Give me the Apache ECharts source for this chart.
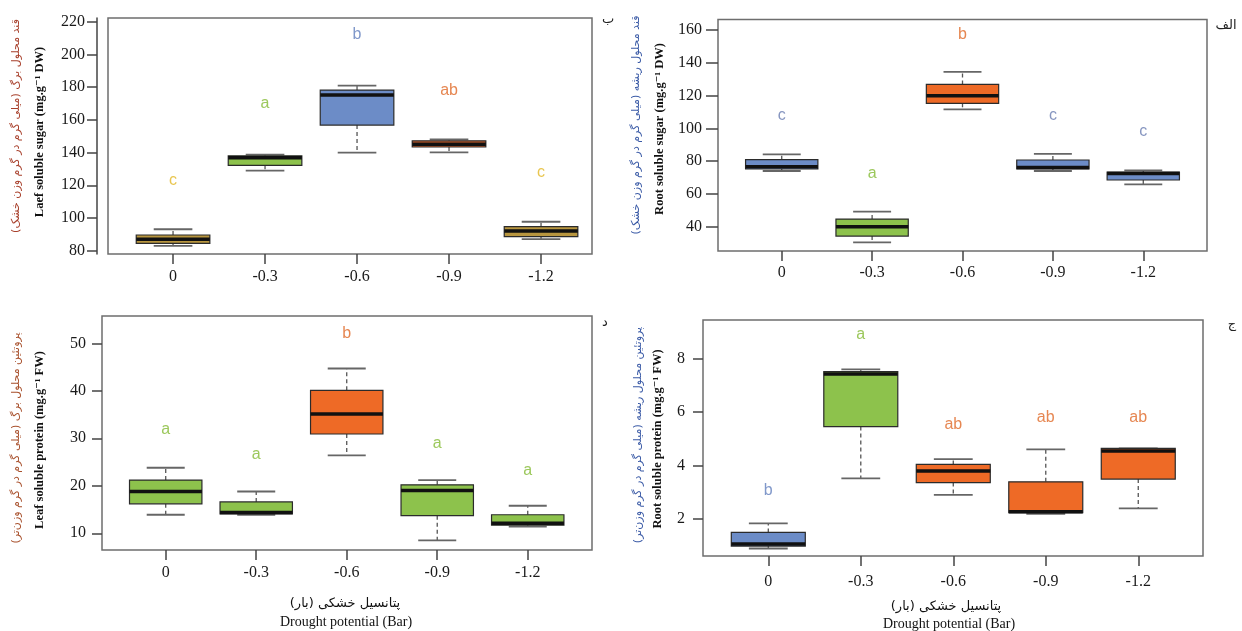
<!DOCTYPE html>
<html>
<head>
<meta charset="utf-8">
<script src="https://cdn.jsdelivr.net/npm/echarts@6/dist/echarts.min.js"></script>
<style>
html,body{margin:0;padding:0;background:#fff;}
#chart{width:1242px;height:631px;}
</style>
</head>
<body>
<div id="chart"></div>
<script>
// ---------- data ----------
const categories = ['0', '-0.3', '-0.6', '-0.9', '-1.2'];
const categoryPos = [1, 2, 3, 4, 5];

// five-number summaries per category: [lower whisker, Q1, median, Q3, upper whisker]
const leafSugar = [
  [82.9, 84.5, 87.0, 89.6, 93.1],
  [128.9, 132.2, 136.8, 138.0, 138.7],
  [139.9, 156.8, 175.2, 178.2, 180.9],
  [140.1, 143.4, 145.0, 147.2, 148.0],
  [87.1, 88.6, 92.0, 94.7, 97.7]
];
const rootSugar = [
  [74.0, 75.2, 76.6, 80.9, 84.1],
  [30.4, 34.3, 40.0, 44.7, 49.2],
  [111.6, 115.3, 119.9, 126.8, 134.4],
  [74.0, 75.2, 76.2, 80.7, 84.5],
  [65.8, 68.5, 72.5, 73.4, 74.4]
];
const leafProtein = [
  [13.9, 16.2, 18.8, 21.2, 23.8],
  [13.9, 14.1, 14.4, 16.6, 18.8],
  [26.4, 30.9, 35.1, 40.1, 44.7],
  [8.5, 13.7, 19.0, 20.2, 21.2],
  [11.4, 11.7, 12.1, 13.9, 15.8]
];
const rootProtein = [
  [0.90, 0.99, 1.07, 1.50, 1.84],
  [3.52, 5.45, 7.41, 7.50, 7.59],
  [2.90, 3.36, 3.79, 4.04, 4.24],
  [2.19, 2.24, 2.27, 3.39, 4.60],
  [2.40, 3.49, 4.54, 4.64, 4.64]
];

// significance letters and their heights
const leafSugarLetters = ['c', 'a', 'b', 'ab', 'c'];
const leafSugarLetterY = [123, 170, 212, 178, 128];
const rootSugarLetters = ['c', 'a', 'b', 'c', 'c'];
const rootSugarLetterY = [107.5, 72.5, 157, 108, 98];
const leafProteinLetters = ['a', 'a', 'b', 'a', 'a'];
const leafProteinLetterY = [31.8, 26.5, 52.1, 28.9, 23.3];
const rootProteinLetters = ['b', 'a', 'ab', 'ab', 'ab'];
const rootProteinLetterY = [3.08, 8.87, 5.51, 5.80, 5.80];

// tick labels
const leafSugarTicks = [80, 100, 120, 140, 160, 180, 200, 220];
const rootSugarTicks = [40, 60, 80, 100, 120, 140, 160];
const leafProteinTicks = [10, 20, 30, 40, 50];
const rootProteinTicks = [2, 4, 6, 8];

// ---------- styles ----------
const FILL = {
  gold: '#B8963F', green: '#8DC24C', blue: '#6C8CC7', orange: '#EE6A26', brownOrange: '#D9622B'
};
const LETTER = {
  gold: '#E9C650', green: '#9CC85C', blue: '#8098CA', orange: '#E68752', grayBlue: '#8796C0'
};

const panels = [
  {
    data: leafSugar, letters: leafSugarLetters, letterY: leafSugarLetterY, ticks: leafSugarTicks,
    grid: {left: 108, top: 18, width: 484, height: 236},
    x: [0.293, 5.554], y: [77.98, 222.26], yOffset: 11, tickLen: 10, labelMargin: 12, xLabelMargin: 15,
    fills: [FILL.gold, FILL.green, FILL.blue, FILL.brownOrange, FILL.gold],
    letterColors: [LETTER.gold, LETTER.green, LETTER.blue, LETTER.orange, LETTER.gold]
  },
  {
    data: rootSugar, letters: rootSugarLetters, letterY: rootSugarLetterY, ticks: rootSugarTicks,
    grid: {left: 718, top: 19.5, width: 489, height: 231.5},
    x: [0.295, 5.705], y: [25.2, 166.4], yOffset: 0, tickLen: 12, labelMargin: 16, xLabelMargin: 14,
    fills: [FILL.blue, FILL.green, FILL.orange, FILL.blue, FILL.blue],
    letterColors: [LETTER.grayBlue, LETTER.green, LETTER.orange, LETTER.grayBlue, LETTER.grayBlue]
  },
  {
    data: leafProtein, letters: leafProteinLetters, letterY: leafProteinLetterY, ticks: leafProteinTicks,
    grid: {left: 102, top: 316, width: 490, height: 234},
    x: [0.296, 5.71], y: [6.48, 55.75], yOffset: 0, tickLen: 10, labelMargin: 16, xLabelMargin: 15,
    fills: [FILL.green, FILL.green, FILL.orange, FILL.green, FILL.green],
    letterColors: [LETTER.green, LETTER.green, LETTER.orange, LETTER.green, LETTER.green]
  },
  {
    data: rootProtein, letters: rootProteinLetters, letterY: rootProteinLetterY, ticks: rootProteinTicks,
    grid: {left: 703, top: 320, width: 500, height: 236},
    x: [0.294, 5.70], y: [0.62, 9.43], yOffset: 0, tickLen: 10, labelMargin: 18, xLabelMargin: 18,
    fills: [FILL.blue, FILL.green, FILL.orange, FILL.orange, FILL.orange],
    letterColors: [LETTER.blue, LETTER.green, LETTER.orange, LETTER.orange, LETTER.orange]
  }
];

const grids = [], xAxes = [], yAxes = [], series = [];
const tickFont = {fontFamily: '"Liberation Serif", "DejaVu Serif", serif', fontSize: 16, color: '#1a1a1a'};

panels.forEach((p, i) => {
  grids.push(Object.assign({show: true, borderColor: '#6e6e6e', borderWidth: 1.5, backgroundColor: 'transparent'}, p.grid));
  xAxes.push({
    type: 'value', gridIndex: i, min: p.x[0], max: p.x[1],
    axisLine: {show: false},
    splitLine: {show: false},
    axisTick: {show: true, customValues: categoryPos, length: 10, lineStyle: {color: '#444', width: 1.5}},
    axisLabel: Object.assign({show: true, customValues: categoryPos, margin: p.xLabelMargin,
      formatter: v => categories[Math.round(v) - 1]}, tickFont)
  });
  yAxes.push({
    type: 'value', gridIndex: i, min: p.y[0], max: p.y[1], offset: p.yOffset,
    axisLine: {show: p.yOffset > 0, lineStyle: {color: '#444', width: 1.5}},
    splitLine: {show: false},
    axisTick: {show: true, customValues: p.ticks, length: p.tickLen, lineStyle: {color: '#444', width: 1.5}},
    axisLabel: Object.assign({show: true, customValues: p.ticks, margin: p.labelMargin}, tickFont)
  });

  const boxData = p.data.map((d, k) => [categoryPos[k]].concat(d));
  series.push({
    type: 'custom', xAxisIndex: i, yAxisIndex: i,
    data: boxData,
    renderItem: function (params, api) {
      const x = api.value(0);
      const lo = api.coord([x, api.value(1)]);
      const q1 = api.coord([x, api.value(2)]);
      const md = api.coord([x, api.value(3)]);
      const q3 = api.coord([x, api.value(4)]);
      const hi = api.coord([x, api.value(5)]);
      const bl = api.coord([x - 0.4, 0])[0], br = api.coord([x + 0.4, 0])[0];
      const cl = api.coord([x - 0.21, 0])[0], cr = api.coord([x + 0.21, 0])[0];
      const cx = lo[0];
      const fill = p.fills[params.dataIndex];
      const whisk = {stroke: '#555', lineWidth: 1.3, lineDash: [4, 3]};
      const cap = {stroke: '#666', lineWidth: 1.8};
      return {
        type: 'group',
        children: [
          {type: 'line', shape: {x1: cx, y1: q3[1], x2: cx, y2: hi[1]}, style: whisk},
          {type: 'line', shape: {x1: cx, y1: q1[1], x2: cx, y2: lo[1]}, style: whisk},
          {type: 'line', shape: {x1: cl, y1: hi[1], x2: cr, y2: hi[1]}, style: cap},
          {type: 'line', shape: {x1: cl, y1: lo[1], x2: cr, y2: lo[1]}, style: cap},
          {type: 'rect', shape: {x: bl, y: q3[1], width: br - bl, height: q1[1] - q3[1]},
            style: {fill: fill, stroke: '#2b2b2b', lineWidth: 1.2}},
          {type: 'line', shape: {x1: bl, y1: md[1], x2: br, y2: md[1]}, style: {stroke: '#111', lineWidth: 3.5}}
        ]
      };
    },
    z: 2
  });

  const letterData = p.letters.map((l, k) => [categoryPos[k], p.letterY[k]]);
  series.push({
    type: 'custom', xAxisIndex: i, yAxisIndex: i,
    data: letterData,
    renderItem: function (params, api) {
      const pt = api.coord([api.value(0), api.value(1)]);
      return {
        type: 'text', x: pt[0], y: pt[1],
        style: {
          text: p.letters[params.dataIndex], fill: p.letterColors[params.dataIndex],
          font: '16px "Liberation Sans", Arial, sans-serif', align: 'center', verticalAlign: 'middle'
        }
      };
    },
    z: 3
  });
});

// ---------- text annotations ----------
const serif = '"Liberation Serif", "DejaVu Serif", serif';
const persianFont = '"DejaVu Sans", "Noto Sans", sans-serif';
function vtext(x, y, text, color, font) {
  return {type: 'text', x: x, y: y, rotation: Math.PI / 2,
    style: {text: text, fill: color, font: font, align: 'center', verticalAlign: 'middle'}};
}
function htext(x, y, text, color, font) {
  return {type: 'text', x: x, y: y,
    style: {text: text, fill: color, font: font, align: 'center', verticalAlign: 'middle'}};
}
const graphics = [
  vtext(16, 126, 'قند محلول برگ (میلی گرم در گرم وزن خشک)', '#A8402C', '11px ' + persianFont),
  vtext(40, 132, 'Laef soluble sugar (mg.g⁻¹ DW)', '#111', 'bold 12.5px ' + serif),
  vtext(636, 125, 'قند محلول ریشه (میلی گرم در گرم وزن خشک)', '#3A5AA6', '11px ' + persianFont),
  vtext(660, 129, 'Root soluble sugar (mg.g⁻¹ DW)', '#111', 'bold 12.5px ' + serif),
  vtext(16, 438, 'پروتئین محلول برگ (میلی گرم در گرم وزن‌تر)', '#A8502C', '11px ' + persianFont),
  vtext(40, 440, 'Leaf soluble protein (mg.g⁻¹ FW)', '#111', 'bold 12.5px ' + serif),
  vtext(638, 435, 'پروتئین محلول ریشه (میلی گرم در گرم وزن‌تر)', '#3A5AA6', '11px ' + persianFont),
  vtext(658, 439, 'Root soluble protein (mg.g⁻¹ FW)', '#111', 'bold 12.5px ' + serif),
  htext(345, 604, 'پتانسیل خشکی (بار)', '#111', '13px ' + persianFont),
  htext(346, 622, 'Drought potential (Bar)', '#111', '14px ' + serif),
  htext(946, 607, 'پتانسیل خشکی (بار)', '#111', '13px ' + persianFont),
  htext(949, 624, 'Drought potential (Bar)', '#111', '14px ' + serif),
  htext(608, 20, 'ب', '#222', '13px ' + persianFont),
  htext(1226, 26, 'الف', '#222', '13px ' + persianFont),
  htext(605, 323, 'د', '#222', '13px ' + persianFont),
  htext(1232, 325, 'ج', '#222', '13px ' + persianFont)
];

const chart = echarts.init(document.getElementById('chart'), null, {renderer: 'canvas'});
chart.setOption({
  animation: false,
  backgroundColor: '#ffffff',
  grid: grids,
  xAxis: xAxes,
  yAxis: yAxes,
  series: series,
  graphic: graphics
});
</script>
</body>
</html>
